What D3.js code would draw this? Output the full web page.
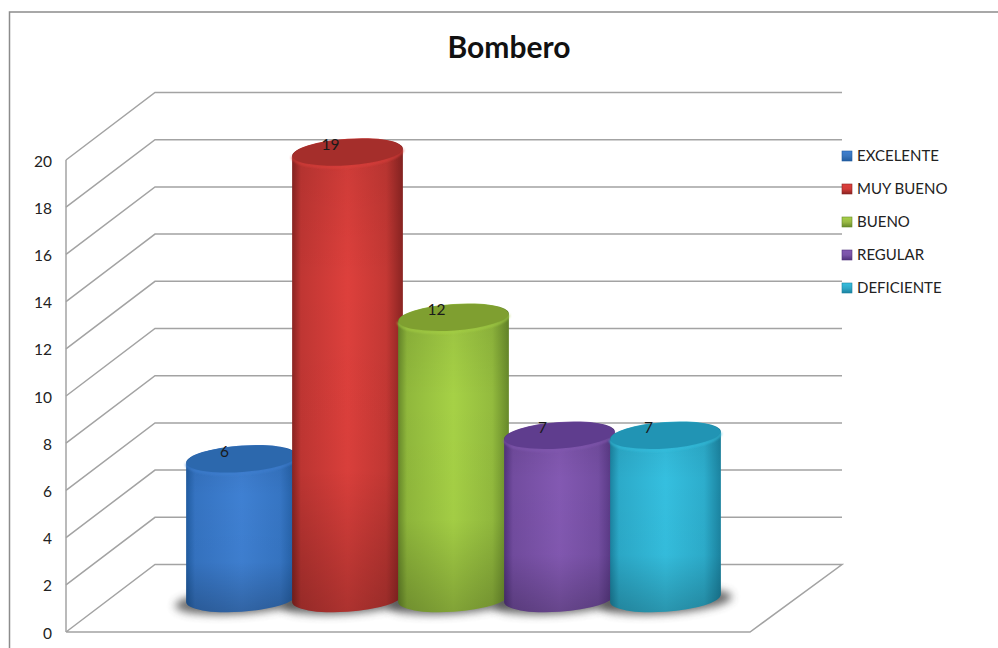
<!DOCTYPE html>
<html><head><meta charset="utf-8">
<script src="https://cdn.jsdelivr.net/npm/d3@7"></script>
<style>html,body{margin:0;padding:0;background:#fff}svg{display:block}text{font-family:Lato,"Noto Sans",sans-serif}</style>
</head><body><svg id="c" width="998" height="648"></svg>
<script>
const seriesNames=["EXCELENTE","MUY BUENO","BUENO","REGULAR","DEFICIENTE"];
const seriesValues=[6,19,12,7,7];
const plottedHeights=[5.9,18.9,11.9,6.9,6.9];
const baseColors=["#3f80d2","#dd403c","#a6d146","#8359b2","#35bfdf"];
const sideColors=["#215ca0","#8a2422","#67892a","#51337c","#1b83a0"];
const topColors=["#2c68ad","#a52e2b","#7f9f30","#5f3d8e","#2194b4"];
const legendColors=["#3a76bd","#d23b38","#9aba45","#7a54a8","#2fa9c9"];
const yTicks=d3.range(0,21,2);

const svg=d3.select("#c");
const y=d3.scaleLinear().domain([0,20]).range([632,160]);
const x=d3.scaleBand().domain(seriesNames).range([188.5,718.5]);
const depthX=89,depthY=-67.5,frontX=66,frontEnd=750,backEnd=842;
const gridColor="#a3a3a3";

svg.append("rect").attr("x",9.5).attr("y",12).attr("width",1200).attr("height",800).attr("fill","#fff").attr("stroke","#8c8c8c").attr("stroke-width",1.5);

const defs=svg.append("defs");
defs.append("filter").attr("id","blur").attr("x","-30%").attr("y","-100%").attr("width","160%").attr("height","300%")
  .append("feGaussianBlur").attr("stdDeviation",4);
defs.append("filter").attr("id","soft").attr("x","-10%").attr("y","-50%").attr("width","120%").attr("height","200%")
  .append("feGaussianBlur").attr("stdDeviation",1);
const shade=defs.append("linearGradient").attr("id","shade").attr("x1",0).attr("x2",0).attr("y1",0).attr("y2",1);
[[0,.08],[.3,0],[.7,.02],[1,.22]].forEach(d=>shade.append("stop").attr("offset",d[0]).attr("stop-color","#000").attr("stop-opacity",d[1]));
seriesNames.forEach((s,i)=>{
  const g=defs.append("linearGradient").attr("id","g"+i);
  const mix=d3.interpolateRgb(sideColors[i],baseColors[i]);
  [[0,sideColors[i]],[.08,mix(.65)],[.5,baseColors[i]],[.85,mix(.7)],[1,sideColors[i]]]
   .forEach(d=>g.append("stop").attr("offset",d[0]).attr("stop-color",d[1]));
  const l=defs.append("linearGradient").attr("id","l"+i).attr("x1",0).attr("x2",0).attr("y1",0).attr("y2",1);
  [[0,baseColors[i]],[.5,legendColors[i]],[1,sideColors[i]]].forEach(d=>l.append("stop").attr("offset",d[0]).attr("stop-color",d[1]));
});

// floor
svg.append("path").attr("fill","none").attr("stroke",gridColor).attr("stroke-width",1.5)
  .attr("d",d3.line()([[frontX,y(0)],[frontX+depthX,y(0)+depthY],[backEnd,y(0)+depthY],[frontEnd,y(0)],[frontX,y(0)]]));
// grid
svg.append("g").selectAll("path").data(yTicks.filter(d=>d>0)).join("path")
  .attr("fill","none").attr("stroke",gridColor).attr("stroke-width",1.5)
  .attr("d",d=>d3.line()([[frontX,y(d)],[frontX+depthX,y(d)+depthY],[backEnd,y(d)+depthY]]));
// axis
svg.append("line").attr("x1",frontX).attr("x2",frontX).attr("y1",y(20)).attr("y2",y(0)).attr("stroke",gridColor).attr("stroke-width",1.5);
svg.append("g").selectAll("text").data(yTicks).join("text")
  .attr("x",52).attr("y",d=>y(d)+1).attr("dy","0.36em").attr("text-anchor","end")
  .attr("font-size",15.5).attr("fill","#222").text(d=>d);

// title
svg.append("text").attr("x",509).attr("y",58).attr("text-anchor","middle")
  .attr("font-size",30).attr("font-weight",700).attr("fill","#111").text("Bombero");

const rx=55.5,ry=13.5,theta=-4*Math.PI/180,backOff=depthY/2;
function pt(cx,cy,t){return [cx+rx*Math.cos(t)*Math.cos(theta)-ry*Math.sin(t)*Math.sin(theta),
                             cy+rx*Math.cos(t)*Math.sin(theta)+ry*Math.sin(t)*Math.cos(theta)];}
const t0=Math.atan(-(ry/rx)*Math.tan(theta));
const deg=theta*180/Math.PI;
function body(cx,top,bot){
  const a=pt(cx,top,t0),b=pt(cx,top,t0+Math.PI),c=pt(cx,bot,t0+Math.PI),e=pt(cx,bot,t0);
  return `M${a}A${rx} ${ry} ${deg} 0 0 ${b}L${c}A${rx} ${ry} ${deg} 0 0 ${e}Z`;
}
function rim(cx,top){
  const b=pt(cx,top,t0+Math.PI),a=pt(cx,top,t0);
  return `M${b}A${rx} ${ry} ${deg} 0 0 ${a}`;
}
const bars=seriesNames.map((s,i)=>({s,i,v:seriesValues[i],h:plottedHeights[i],cx:x(s)+x.bandwidth()/2}));
const base=y(0)+backOff;
// shadows
svg.append("g").selectAll("ellipse").data(bars).join("ellipse")
  .attr("cx",d=>d.cx).attr("cy",base+3).attr("rx",rx+11).attr("ry",ry-1)
  .attr("transform",d=>`rotate(${deg} ${d.cx} ${base+3})`)
  .attr("fill","#444").attr("opacity",.8).attr("filter","url(#blur)");
const gs=svg.append("g").selectAll("g").data(bars).join("g");
gs.append("path").attr("d",d=>body(d.cx,y(d.h)+backOff,base)).attr("fill",d=>`url(#g${d.i})`);
gs.append("path").attr("d",d=>body(d.cx,y(d.h)+backOff,base)).attr("fill","url(#shade)");
gs.append("path").attr("d",d=>rim(d.cx,y(d.h)+backOff+1)).attr("fill","none")
  .attr("stroke",d=>baseColors[d.i]).attr("stroke-width",2).attr("stroke-opacity",.8).attr("filter","url(#soft)");
gs.append("ellipse").attr("cx",d=>d.cx).attr("cy",d=>y(d.h)+backOff).attr("rx",rx-.5).attr("ry",ry-.5)
  .attr("transform",d=>`rotate(${deg} ${d.cx} ${y(d.h)+backOff})`)
  .attr("fill",d=>topColors[d.i]);
gs.append("text").attr("x",d=>d.cx-17).attr("y",d=>y(d.h)+backOff-8).attr("dy","0.36em")
  .attr("text-anchor","middle").attr("font-size",15.5).attr("fill","#1a1a1a").text(d=>d.v);

// legend
const ly=d3.scalePoint().domain(seriesNames).range([156,288]);
const lg=svg.append("g").selectAll("g").data(seriesNames).join("g");
lg.append("rect").attr("x",842).attr("y",d=>ly(d)-5).attr("width",10).attr("height",10)
  .attr("fill",(d,i)=>`url(#l${i})`).attr("stroke",(d,i)=>sideColors[i]).attr("stroke-width",.6);
lg.append("text").attr("x",857).attr("y",d=>ly(d)).attr("dy","0.36em").attr("font-size",15).attr("fill","#222").text(d=>d);
</script></body></html>
